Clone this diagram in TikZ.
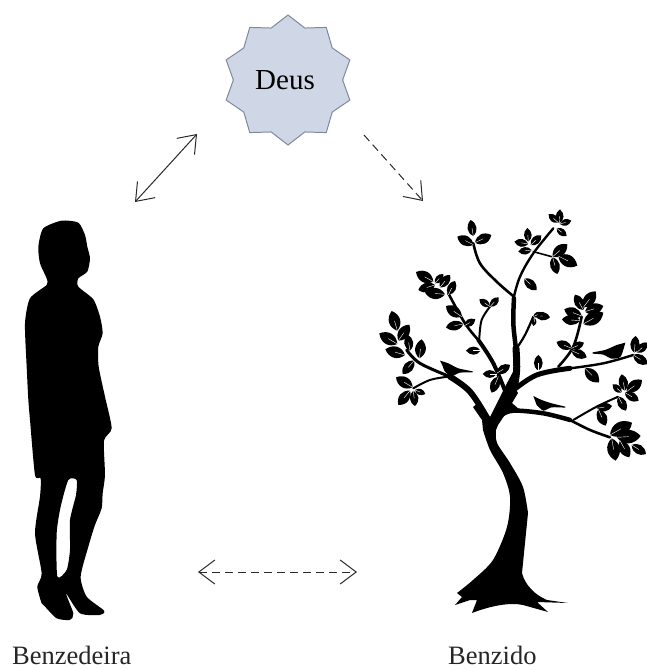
\documentclass[tikz,border=0pt]{standalone}
\usepackage{fontspec}
\setmainfont{Liberation Serif}
\usetikzlibrary{arrows.meta,calc,shapes.geometric}
\definecolor{starfill}{HTML}{CFD6E5}
\definecolor{starline}{HTML}{7F8A9E}
\definecolor{arrowgray}{HTML}{2A2A2A}
\tikzset{
  starbox/.style={star,star points=10,star point ratio=1.19,minimum size=130pt,inner sep=0pt,
    fill=starfill,draw=starline,line width=1pt,font=\fontsize{29}{29}\selectfont},
  lbl/.style={font=\fontsize{26.5}{26.5}\selectfont,inner sep=0pt,text=black!85},
  link/.style={draw=arrowgray,line width=1pt},
  twoway/.style={link,{Straight Barb[length=16pt,width=24pt]}-{Straight Barb[length=16pt,width=24pt]}},
  dashline/.style={dash pattern=on 8pt off 5pt},
  branch/.style={draw=black,line cap=round,line join=round},
}
\newcommand{\leafbt}[4]{%
  \fill[black] (#1,#2) .. controls ($(#1,#2)!0.45!55:(#3,#4)$) and ($(#1,#2)!0.8!28:(#3,#4)$) .. (#3,#4)
     .. controls ($(#1,#2)!0.8!-28:(#3,#4)$) and ($(#1,#2)!0.45!-55:(#3,#4)$) .. cycle;
  \draw[white,line width=0.4pt] (#1,#2) -- ($(#1,#2)!0.5!(#3,#4)$);}
\begin{document}
\begin{tikzpicture}[x=1pt,y=-1pt]
\useasboundingbox (0,0) rectangle (647,670);
\fill[white] (0,0) rectangle (647,670);

% Deus
\node[starbox] (deus) at (288,80) {Deus\kern6pt};
\coordinate (dl) at (197,134);
\coordinate (bl) at (135,202);
\coordinate (dr) at (364,135);
\coordinate (br) at (423,201);
\coordinate (ml) at (198,572);
\coordinate (mr) at (357,572);
\draw[twoway] (dl) -- (bl);
\draw[link,dashline,-{Straight Barb[length=16pt,width=24pt]}] (dr) -- (br);
\draw[twoway,dashline] (ml) -- (mr);

% Person
\begin{scope}[shift={(0,200)},scale=0.3333]
\fill[black,even odd rule]
  plot[smooth cycle,tension=0.4] coordinates {
  (185,62) (235,68) (255,105) (262,140) (270,175) (262,215) (235,235) (235,260) (280,298) (300,350)
  (308,400) (295,440) (296,500) (315,590) (335,685) (312,722) (315,825) (308,880) (305,925) (285,975)
  (265,1040) (242,1130) (260,1190) (312,1232) (300,1245) (240,1240) (198,1180) (220,1240) (210,1260) (170,1255)
  (135,1220) (125,1210) (112,1160) (125,1120) (105,1000) (120,890) (122,835) (105,825) (90,660) (85,600) (80,500)
  (75,370) (90,295) (140,255) (140,235) (120,190) (115,140) (130,85)}
  plot[smooth cycle,tension=0.4] coordinates {
  (205,840) (230,840) (228,885) (210,960) (210,1050) (200,1110) (172,1130) (170,1000) (182,920)};
\end{scope}

% Tree trunk
\fill[black] (482,420)
  -- plot[smooth,tension=0.5] coordinates {(483,430) (490,450) (503,473) (510,497) (507,527) (493,560) (473,580) (457,593)}
  -- (462,597) -- (455,605) -- (470,600) -- (477,600) -- (472,613)
  .. controls (490,606) and (510,602) .. (523,605) -- (548,612) -- (537,602) -- (568,603) -- (547,600)
  .. controls (535,595) and (525,585) .. (522,573)
  -- plot[smooth,tension=0.5] coordinates {(528,513) (523,487) (510,463) (497,443) (496,430)}
  -- (498,425) -- (506,413) -- (520,410) -- (512,403) -- (518,393) -- (513,385) -- (518,370) -- (514,370)
  -- (506,385) -- (490,417) -- (478,403) -- (473,407) -- cycle;

\begin{scope}[shift={(370,200)},scale=0.3333]
% branches
\draw[branch,line width=7pt] plot[smooth,tension=0.6] coordinates {(405,625) (430,570) (440,510) (438,445)};
\draw[branch,line width=4.5pt] plot[smooth,tension=0.6] coordinates {(438,445) (430,370) (432,295)};
\draw[branch,line width=2.6pt] plot[smooth,tension=0.6] coordinates {(432,290) (380,245) (330,190) (310,130)};
\draw[branch,line width=2.4pt] plot[smooth,tension=0.6] coordinates {(432,290) (450,230) (490,160) (550,85)};
\draw[branch,line width=1.6pt] (490,155) -- (545,170);
\draw[branch,line width=6pt] plot[smooth,tension=0.6] coordinates {(352,655) (300,575) (240,530)};
\draw[branch,line width=3pt] plot[smooth,tension=0.6] coordinates {(240,530) (150,490) (110,450)};
\draw[branch,line width=2pt] plot[smooth,tension=0.6] coordinates {(235,530) (180,540) (130,565)};
\draw[branch,line width=4pt] plot[smooth,tension=0.6] coordinates {(410,585) (370,490) (325,420)};
\draw[branch,line width=2.6pt] plot[smooth,tension=0.6] coordinates {(325,420) (285,370) (235,280)};
\draw[branch,line width=2pt] plot[smooth,tension=0.6] coordinates {(328,415) (335,360) (360,320)};
\draw[branch,line width=2.2pt] plot[smooth,tension=0.6] coordinates {(440,445) (465,405) (490,350)};
\draw[branch,line width=5pt] plot[smooth,tension=0.6] coordinates {(425,575) (500,525) (600,505)};
\draw[branch,line width=2.4pt] plot[smooth,tension=0.6] coordinates {(600,505) (700,490) (790,465)};
\draw[branch,line width=2.6pt] plot[smooth,tension=0.6] coordinates {(565,500) (610,440) (635,350)};
\draw[branch,line width=4.5pt] plot[smooth,tension=0.6] coordinates {(395,645) (430,632) (520,640) (600,660)};
\draw[branch,line width=2.6pt] plot[smooth,tension=0.6] coordinates {(600,660) (660,690) (720,712)};
\draw[branch,line width=2pt] plot[smooth,tension=0.6] coordinates {(610,660) (680,620) (745,590)};
% top-left cluster
\leafbt{310}{108}{302}{60}
\leafbt{315}{128}{364}{105}
\leafbt{310}{134}{262}{110}
% top-right cluster
\leafbt{568}{70}{570}{28}
\leafbt{570}{72}{604}{62}
\leafbt{560}{85}{590}{108}
\leafbt{565}{68}{536}{42}
% upper middle cluster
\leafbt{475}{125}{472}{84}
\leafbt{482}{135}{514}{106}
\leafbt{475}{132}{433}{125}
\leafbt{485}{150}{445}{155}
% right of upper middle
\leafbt{548}{170}{592}{133}
\leafbt{565}{168}{622}{197}
\leafbt{548}{172}{562}{222}
% lone upper
\leafbt{463}{236}{500}{270}
% upper-left cluster
\leafbt{190}{245}{138}{216}
\leafbt{195}{255}{145}{270}
\leafbt{225}{283}{165}{278}
\leafbt{195}{250}{220}{222}
\leafbt{210}{262}{240}{225}
\leafbt{235}{285}{255}{243}
% mid-left leaves
\leafbt{275}{350}{228}{318}
\leafbt{280}{372}{228}{382}
\leafbt{282}{378}{316}{358}
\leafbt{360}{320}{328}{298}
\leafbt{360}{320}{386}{292}
\leafbt{332}{452}{288}{452}
\leafbt{380}{522}{338}{522}
\leafbt{380}{520}{420}{495}
\leafbt{385}{530}{365}{578}
% far-left cluster
\leafbt{82}{392}{65}{333}
\leafbt{85}{422}{118}{374}
\leafbt{82}{432}{28}{400}
\leafbt{105}{465}{46}{448}
\leafbt{120}{452}{112}{404}
\leafbt{148}{475}{155}{418}
\leafbt{132}{482}{98}{522}
% lower-left cluster
\leafbt{128}{562}{78}{532}
\leafbt{120}{572}{85}{615}
\leafbt{130}{572}{135}{618}
\leafbt{135}{570}{166}{582}
% central-right
\leafbt{495}{345}{540}{352}
\leafbt{490}{350}{516}{338}
\leafbt{495}{355}{490}{378}
\leafbt{505}{512}{505}{465}
% right-upper cluster
\leafbt{640}{330}{615}{284}
\leafbt{640}{322}{677}{274}
\leafbt{645}{335}{700}{318}
\leafbt{640}{372}{700}{338}
\leafbt{635}{348}{583}{328}
\leafbt{630}{362}{576}{358}
\leafbt{605}{445}{560}{426}
\leafbt{605}{445}{642}{428}
\leafbt{605}{452}{650}{472}
\leafbt{645}{505}{687}{547}
% far-right cluster
\leafbt{793}{458}{797}{408}
\leafbt{800}{458}{833}{428}
\leafbt{790}{465}{833}{492}
% lower-right upper cluster
\leafbt{765}{572}{755}{523}
\leafbt{770}{575}{816}{540}
\leafbt{765}{578}{806}{602}
\leafbt{755}{578}{728}{553}
\leafbt{745}{590}{768}{632}
\leafbt{680}{625}{726}{618}
\leafbt{685}{628}{707}{677}
% bottom-right cluster
\leafbt{720}{705}{786}{668}
\leafbt{740}{712}{812}{708}
\leafbt{785}{735}{828}{762}
\leafbt{725}{715}{737}{782}
\leafbt{750}{722}{778}{772}
% birds
\fill[black] plot[smooth,tension=0.4] coordinates {(210,482) (235,490) (265,505) (308,514)}
  -- plot[smooth,tension=0.4] coordinates {(308,517) (270,518) (245,528) (225,515) (218,498)} -- cycle;
\fill[black] plot[smooth,tension=0.4] coordinates {(490,588) (515,600) (545,610) (586,620)}
  -- plot[smooth,tension=0.4] coordinates {(586,623) (545,622) (520,632) (500,615)} -- cycle;
\fill[black] plot[smooth,tension=0.4] coordinates {(766,428) (752,470) (725,476) (700,464) (668,461)}
  -- plot[smooth,tension=0.4] coordinates {(668,457) (705,450) (740,435)} -- cycle;
\end{scope}

% labels
\node[lbl,anchor=base west] (ben) at (12,664) {Benzedeira};
\node[lbl,anchor=base west] (bdo) at (448,664) {Benzido};
\end{tikzpicture}
\end{document}
